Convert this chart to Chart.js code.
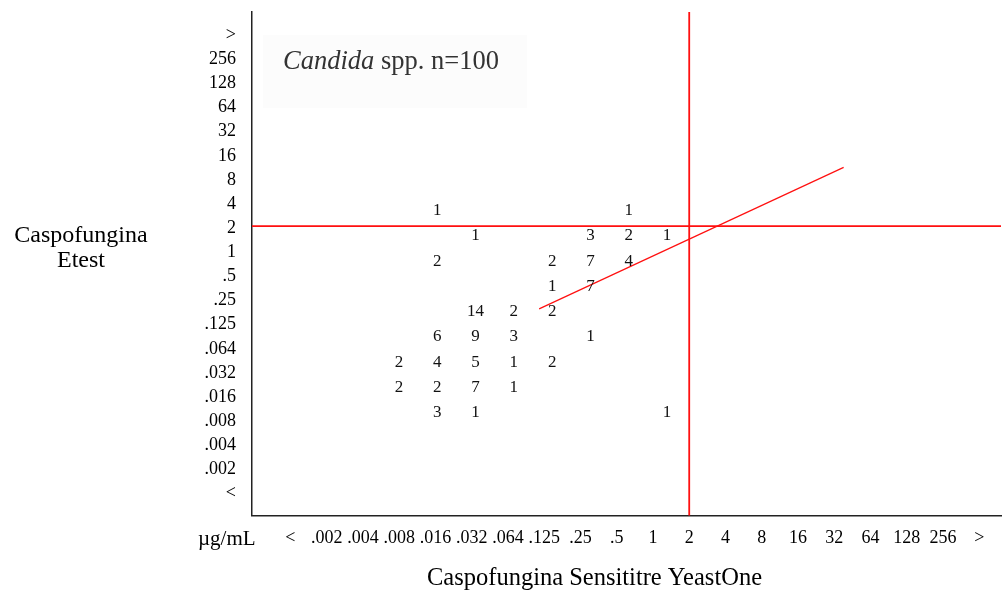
<!DOCTYPE html>
<html><head><meta charset="utf-8">
<script src="https://cdn.jsdelivr.net/npm/chart.js@4/dist/chart.umd.min.js"></script>
<style>html,body{margin:0;padding:0;background:#fff;}canvas{display:block;}</style>
</head><body>
<canvas id="c" width="1002" height="591"></canvas>
<script>
// MIC categories (log2 dilution steps), shared by both axes
const micLabels = ['<','.002','.004','.008','.016','.032','.064','.125','.25','.5','1','2','4','8','16','32','64','128','256','>'];

// Cells of the agreement table: YeastOne MIC, Etest MIC, number of isolates
const cellYeastOne = ['.016','.5', '.032','.25','.5','1', '.016','.125','.25','.5', '.125','.25', '.032','.064','.125', '.016','.032','.064','.25', '.008','.016','.032','.064','.125', '.008','.016','.032','.064', '.016','.032','1'];
const cellEtest    = ['2','2',    '1','1','1','1',      '.5','.5','.5','.5',       '.25','.25',  '.125','.125','.125', '.064','.064','.064','.064', '.032','.032','.032','.032','.032', '.016','.016','.016','.016', '.008','.008','.008'];
const cellCount    = [1,1,        1,3,2,1,              2,2,7,4,                   1,7,          14,2,2,             6,9,3,1,                   2,4,5,1,2,                       2,2,7,1,                     3,1,1];

// Breakpoints (red reference lines)
const breakpointYeastOne = '2';
const breakpointEtest = '2';

// Fitted line end points, in dilution-step units
const fitYeastOne = [6.86, 15.26];
const fitEtest = [7.57, 13.44];

const idx = l => micLabels.indexOf(l);
const countPoints = cellCount.map((n, i) => ({x: idx(cellYeastOne[i]), y: idx(cellEtest[i]), n}));
const fitPoints = fitYeastOne.map((v, i) => ({x: v, y: fitEtest[i]}));

const SERIF = "'Liberation Serif','Times New Roman',serif";
Chart.defaults.font.family = SERIF;
Chart.defaults.color = '#000';

const allTicks = s => { s.ticks = micLabels.map((_, i) => ({value: i})); };

const overlay = {
  id: 'overlay',
  beforeDatasetsDraw(chart) {
    const {ctx, chartArea: a, scales: {x, y}} = chart;
    ctx.save();
    // faint panel behind the inset title
    ctx.fillStyle = '#fcfcfc';
    ctx.fillRect(a.left + 11, a.top + 23, 264, 73);
    const px = x.getPixelForValue(idx(breakpointYeastOne));
    const py = y.getPixelForValue(idx(breakpointEtest));
    ctx.strokeStyle = '#ff1010';
    ctx.lineWidth = 1.8;
    ctx.beginPath();
    ctx.moveTo(a.left, py); ctx.lineTo(a.right, py);
    ctx.moveTo(px, a.top); ctx.lineTo(px, a.bottom);
    ctx.stroke();
    ctx.restore();
  },
  afterDatasetsDraw(chart) {
    const {ctx} = chart;
    const meta = chart.getDatasetMeta(0);
    ctx.save();
    ctx.fillStyle = '#111';
    ctx.font = '17px ' + SERIF;
    ctx.textAlign = 'center';
    ctx.textBaseline = 'middle';
    meta.data.forEach((pt, i) => ctx.fillText(String(countPoints[i].n), pt.x, pt.y));
    ctx.restore();
  },
  afterDraw(chart) {
    const {ctx, chartArea: a} = chart;
    ctx.save();
    // inset title
    ctx.fillStyle = '#333';
    ctx.textBaseline = 'alphabetic';
    ctx.textAlign = 'left';
    ctx.font = 'italic 26.5px ' + SERIF;
    const tx = a.left + 31, ty = a.top + 57;
    ctx.fillText('Candida', tx, ty);
    const w = ctx.measureText('Candida').width;
    ctx.font = '26.5px ' + SERIF;
    ctx.fillText(' spp. n=100', tx + w, ty);
    // axis titles
    ctx.fillStyle = '#000';
    ctx.font = '24px ' + SERIF;
    ctx.textAlign = 'center';
    ctx.fillText('Caspofungina', 81, 242);
    ctx.fillText('Etest', 81, 267);
    ctx.font = '24.5px ' + SERIF;
    ctx.fillText('Caspofungina Sensititre YeastOne', 594.5, 585);
    ctx.textAlign = 'left';
    ctx.font = '21px ' + SERIF;
    ctx.fillText('\u00b5g/mL', 198, 545);
    ctx.restore();
  }
};

new Chart(document.getElementById('c'), {
  type: 'scatter',
  data: {
    datasets: [
      {data: countPoints, xAxisID: 'xd', yAxisID: 'yd', pointRadius: 0, pointHoverRadius: 0},
      {data: fitPoints, xAxisID: 'x', yAxisID: 'y', showLine: true, borderColor: '#ff1010', borderWidth: 1.2, pointRadius: 0, fill: false}
    ]
  },
  options: {
    responsive: false,
    animation: false,
    events: [],
    layout: {padding: {top: 12, right: 1, left: 0, bottom: 0}},
    plugins: {legend: {display: false}, tooltip: {enabled: false}},
    scales: {
      x: {
        type: 'linear', position: 'bottom', min: -1.06, max: 19.6,
        afterBuildTicks: allTicks,
        afterFit: s => { s.height = 75.5; s.paddingLeft = 0; s.paddingRight = 0; },
        grid: {display: false, drawTicks: false},
        border: {display: true, color: '#222', width: 1.5},
        ticks: {autoSkip: false, maxRotation: 0, padding: 12, font: {size: 18}, color: '#000',
          callback: v => micLabels[v] ?? ''}
      },
      y: {
        type: 'linear', position: 'left', min: -0.995, max: 19.88,
        afterBuildTicks: allTicks,
        afterFit: s => { s.width = 252; s.paddingTop = 0; s.paddingBottom = 0; },
        grid: {display: false, drawTicks: false},
        border: {display: true, color: '#222', width: 1.5},
        ticks: {autoSkip: false, padding: 16, labelOffset: 2, font: {size: 18}, color: '#000',
          callback: v => micLabels[v] ?? ''}
      },
      xd: {type: 'linear', display: false, min: -0.838, max: 18.72},
      yd: {type: 'linear', display: false, min: -1.079, max: 18.87}
    }
  },
  plugins: [overlay]
});
</script>
</body></html>
